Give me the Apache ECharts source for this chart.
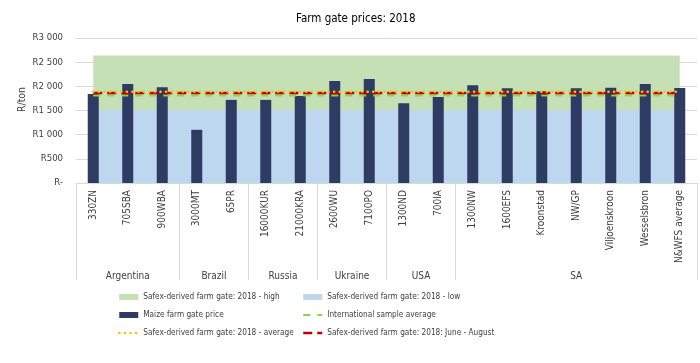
<!DOCTYPE html>
<html>
<head>
<meta charset="utf-8">
<script src="https://cdn.jsdelivr.net/npm/echarts@6/dist/echarts.min.js"></script>
<style>html,body{margin:0;padding:0;background:#fff}#c{width:700px;height:363px}</style>
</head>
<body>
<div id="c"></div>
<script>
const categories = ['330ZN','705SBA','900WBA','3000MT','65PR','16000KUR','21000KRA','2600WU','7100PO','1300ND','700IA','1300NW','1600EFS','Kroonstad','NW/GP','Viljoenskroon','Wesselsbron','N&WFS average'];
const groups = ['Argentina','Brazil','Russia','Ukraine','USA','SA'];
const groupSizes = [3,2,2,2,2,7];
const maizePrice = [1840,2050,1980,1100,1720,1720,1800,2110,2150,1650,1780,2020,1960,1900,1960,1970,2050,1965];
const safexHigh = [2640,2640,2640,2640,2640,2640,2640,2640,2640,2640,2640,2640,2640,2640,2640,2640,2640,2640];
const safexLow = [1510,1510,1510,1510,1510,1510,1510,1510,1510,1510,1510,1510,1510,1510,1510,1510,1510,1510];
const intlAvg = [1810,1810,1810,1810,1810,1810,1810,1810,1810,1810,1810,1810,1810,1810,1810,1810,1810,1810];
const safexAvg = [1890,1890,1890,1890,1890,1890,1890,1890,1890,1890,1890,1890,1890,1890,1890,1890,1890,1890];
const safexJunAug = [1860,1860,1860,1860,1860,1860,1860,1860,1860,1860,1860,1860,1860,1860,1860,1860,1860,1860];

const names = {
  high: 'Safex-derived farm gate: 2018 - high',
  low: 'Safex-derived farm gate: 2018 - low',
  maize: 'Maize farm gate price',
  intl: 'International sample average',
  avg: 'Safex-derived farm gate: 2018 - average',
  ja: 'Safex-derived farm gate: 2018: June - August'
};

const boundaries = [0];
const centers = [];
groupSizes.forEach(s => { const a = boundaries[boundaries.length-1]; centers.push(a + s/2); boundaries.push(a + s); });

const FONT = "'Liberation Sans Narrow','DejaVu Sans Condensed',sans-serif";
const TXT = '#404040';
const GRID = '#D9D9D9';

function yFmt(v){
  if (v === 0) return 'R-';
  if (v < 1000) return 'R' + v;
  const s = String(v);
  return 'R' + s.slice(0, s.length-3) + ' ' + s.slice(-3);
}

const legendText = {fontFamily: FONT, fontSize: 8.2, color: TXT, lineHeight: 12};
const hideSym = {opacity: 0};

const chart = echarts.init(document.getElementById('c'), null, {renderer:'canvas'});
chart.setOption({
  animation: false,
  textStyle: {fontFamily: FONT},
  title: {text: 'Farm gate prices: 2018', left: 291, top: 8, textStyle: {fontFamily: FONT, fontSize: 11.5, fontWeight: 'normal', color: '#000'}},
  grid: {left: 76, right: 3, top: 38, bottom: 180, containLabel: false},
  legend: [
    {left: 113, top: 286, orient: 'vertical', itemGap: 6, itemWidth: 19, itemHeight: 6, textStyle: legendText,
     data: [{name: names.high, icon: 'rect'}, {name: names.maize, icon: 'rect'},
            {name: names.avg, itemStyle: hideSym, lineStyle: {width: 2.5}}]},
    {left: 297, top: 286, orient: 'vertical', itemGap: 6, itemWidth: 19, itemHeight: 6, textStyle: legendText,
     data: [{name: names.low, icon: 'rect'}, {name: names.intl, itemStyle: hideSym, lineStyle: {width: 2}},
            {name: names.ja, itemStyle: hideSym, lineStyle: {width: 2.5}}]}
  ],
  xAxis: [
    {type: 'category', data: categories, boundaryGap: true,
     axisLine: {show: true, lineStyle: {color: GRID}}, axisTick: {show: false},
     axisLabel: {rotate: 90, interval: 0, margin: 7, fontSize: 10, color: TXT, fontFamily: FONT}},
    {type: 'value', min: 0, max: categories.length, position: 'bottom', offset: 97,
     axisLine: {show: false}, splitLine: {show: false},
     axisTick: {show: true, inside: true, length: 97, customValues: boundaries, lineStyle: {color: GRID}},
     axisLabel: {show: true, inside: true, margin: -1, customValues: centers, fontSize: 10, color: TXT, fontFamily: FONT,
       formatter: v => { const i = centers.findIndex(c => Math.abs(c - v) < 1e-6); return i >= 0 ? groups[i] : ''; }}}
  ],
  yAxis: {type: 'value', min: 0, max: 3000, interval: 500,
    name: 'R/ton', nameLocation: 'middle', nameGap: 48, nameRotate: 90, nameMoveOverlap: false,
    nameTextStyle: {fontFamily: FONT, fontSize: 10.5, color: TXT, padding: [0, 0, 0, 22]},
    axisLine: {show: false}, axisTick: {show: false},
    splitLine: {lineStyle: {color: GRID}},
    axisLabel: {formatter: yFmt, margin: 13, fontSize: 9.5, color: TXT, fontFamily: FONT}},
  series: [
    {name: names.high, type: 'line', data: safexHigh, symbol: 'none', z: 1,
     lineStyle: {width: 0}, itemStyle: {color: '#C5E0B4'}, areaStyle: {color: '#C5E0B4', opacity: 1}},
    {name: names.low, type: 'line', data: safexLow, symbol: 'none', z: 1,
     lineStyle: {width: 0}, itemStyle: {color: '#BDD7EE'}, areaStyle: {color: '#BDD7EE', opacity: 1}},
    {name: names.maize, type: 'bar', data: maizePrice, barWidth: 11, z: 2,
     itemStyle: {color: '#2E3B63'}},
    {name: names.intl, type: 'line', data: intlAvg, symbol: 'none', z: 3,
     itemStyle: {color: '#92D050'}, lineStyle: {color: '#92D050', width: 2, type: [7, 7]}},
    {name: names.avg, type: 'line', data: safexAvg, symbol: 'none', z: 4,
     itemStyle: {color: '#FFC000'}, lineStyle: {color: '#FFC000', width: 2.5, type: [0.1, 5.5], cap: 'round'}},
    {name: names.ja, type: 'line', data: safexJunAug, symbol: 'none', z: 3,
     itemStyle: {color: '#C00000'}, lineStyle: {color: '#C00000', width: 2.5, type: [9, 5]}}
  ]
});
</script>
</body>
</html>
